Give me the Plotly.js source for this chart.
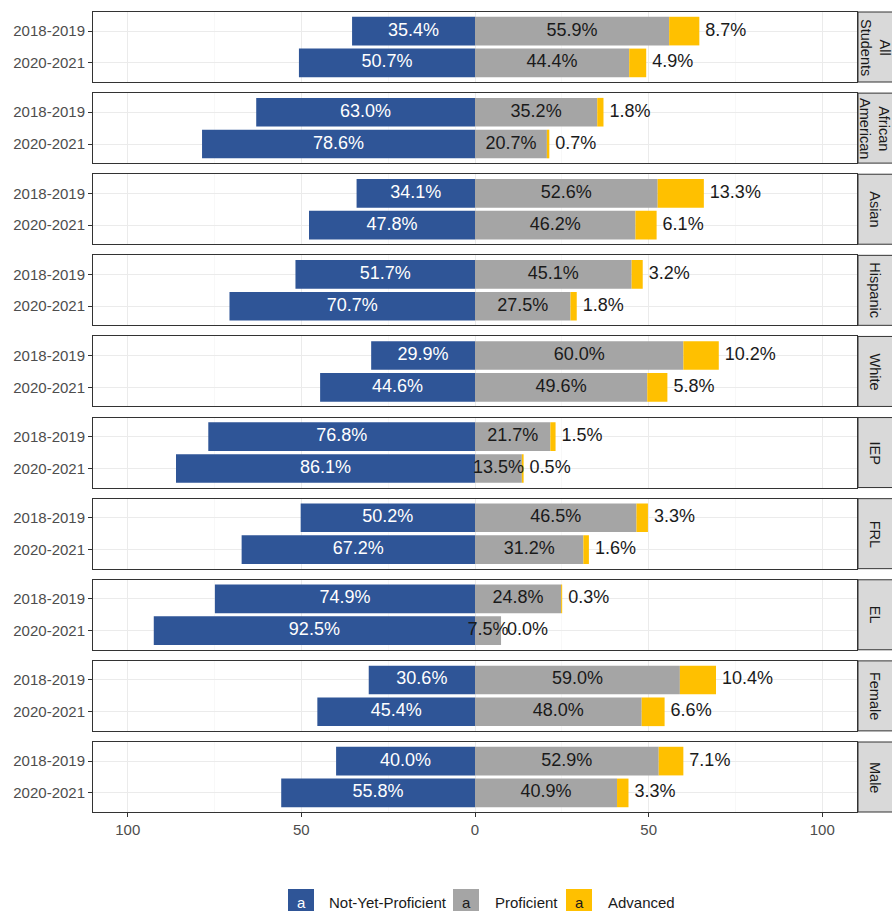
<!DOCTYPE html>
<html>
<head>
<meta charset="utf-8">
<script src="https://cdn.plot.ly/plotly-3.0.1.min.js"></script>
<style>html,body{margin:0;padding:0;background:#fff;}#chart{width:892px;height:911px;}</style>
</head>
<body>
<div id="chart"></div>
<script>
// ---- data ----
const groups = ['All Students','African American','Asian','Hispanic','White','IEP','FRL','EL','Female','Male'];
const years = ['2018-2019','2020-2021'];
const notYet2018 = [35.4, 63.0, 34.1, 51.7, 29.9, 76.8, 50.2, 74.9, 30.6, 40.0];
const notYet2020 = [50.7, 78.6, 47.8, 70.7, 44.6, 86.1, 67.2, 92.5, 45.4, 55.8];
const prof2018   = [55.9, 35.2, 52.6, 45.1, 60.0, 21.7, 46.5, 24.8, 59.0, 52.9];
const prof2020   = [44.4, 20.7, 46.2, 27.5, 49.6, 13.5, 31.2, 7.5, 48.0, 40.9];
const adv2018    = [8.7, 1.8, 13.3, 3.2, 10.2, 1.5, 3.3, 0.3, 10.4, 7.1];
const adv2020    = [4.9, 0.7, 6.1, 1.8, 5.8, 0.5, 1.6, 0.0, 6.6, 3.3];
const levels = ['Not-Yet-Proficient','Proficient','Advanced'];
const xTickVals = [-100, -50, 0, 50, 100];
const xTickText = ['100', '50', '0', '50', '100'];

// ---- style ----
const colors = ['#2F5597', '#A5A5A5', '#FFC000'];
const labelColors = ['#ffffff', '#1a1a1a', '#1a1a1a'];
const FONT = 'Liberation Sans, Arial, sans-serif';

const W = 892, H = 911;
const M = {l: 93, r: 35, t: 12, b: 99};
const plotW = W - M.l - M.r, plotH = H - M.t - M.b;
const panelH = 70;
const pitch = (plotH - panelH) / (groups.length - 1);

const fmt = v => v.toFixed(1) + '%';
const traces = [];
const layout = {
  width: W, height: H,
  margin: M,
  paper_bgcolor: '#ffffff', plot_bgcolor: '#ffffff',
  barmode: 'relative', bargap: 0.1,
  showlegend: false,
  font: {family: FONT},
  shapes: [], annotations: []
};

groups.forEach((g, i) => {
  const k = i === 0 ? '' : String(i + 1);
  const xa = 'x' + k, ya = 'y' + k;
  const nyp = [notYet2018[i], notYet2020[i]];
  const pro = [prof2018[i], prof2020[i]];
  const adv = [adv2018[i], adv2020[i]];

  traces.push({type: 'bar', orientation: 'h', xaxis: xa, yaxis: ya, y: years,
    x: nyp.map(v => -v), marker: {color: colors[0]}, hoverinfo: 'skip', name: levels[0]});
  traces.push({type: 'bar', orientation: 'h', xaxis: xa, yaxis: ya, y: years,
    x: pro, marker: {color: colors[1]}, hoverinfo: 'skip', name: levels[1]});
  traces.push({type: 'bar', orientation: 'h', xaxis: xa, yaxis: ya, y: years,
    x: adv, marker: {color: colors[2]}, hoverinfo: 'skip', name: levels[2]});

  // labels
  traces.push({type: 'scatter', mode: 'text', xaxis: xa, yaxis: ya, y: years,
    x: nyp.map(v => -v / 2), text: nyp.map(fmt), textposition: 'middle center',
    textfont: {family: FONT, size: 18, color: labelColors[0]}, hoverinfo: 'skip', cliponaxis: false});
  traces.push({type: 'scatter', mode: 'text', xaxis: xa, yaxis: ya, y: years,
    x: pro.map(v => v / 2), text: pro.map(fmt), textposition: 'middle center',
    textfont: {family: FONT, size: 18, color: labelColors[1]}, hoverinfo: 'skip', cliponaxis: false});
  traces.push({type: 'scatter', mode: 'markers+text', xaxis: xa, yaxis: ya, y: years,
    x: pro.map((v, j) => v + adv[j]), text: adv.map(fmt), textposition: 'middle right',
    marker: {size: 8, opacity: 0},
    textfont: {family: FONT, size: 18, color: labelColors[2]}, hoverinfo: 'skip', cliponaxis: false});

  const topPx = pitch * i;
  const dom = [1 - (topPx + panelH) / plotH, 1 - topPx / plotH];
  const last = i === groups.length - 1;

  const xaxis = {
    domain: [0, 1], anchor: ya, range: [-110, 110],
    tickmode: 'array', tickvals: xTickVals, ticktext: xTickText,
    showticklabels: last, ticks: last ? 'outside' : '', ticklen: 4, tickcolor: '#333333',
    tickfont: {family: FONT, size: 15, color: '#4d4d4d'},
    showgrid: true, gridcolor: '#ebebeb', gridwidth: 1, zeroline: false,
    minor: {tickmode: 'array', tickvals: [-75, -25, 25, 75], showgrid: true, gridcolor: '#f4f4f4', gridwidth: 0.6, ticklen: 0},
    showline: true, mirror: true, linecolor: '#333333', linewidth: 1,
    fixedrange: true
  };
  if (i > 0) xaxis.matches = 'x';
  layout['xaxis' + k] = xaxis;

  layout['yaxis' + k] = {
    domain: dom, anchor: xa, type: 'category', categoryorder: 'array', categoryarray: years,
    range: [1.6, -0.6],
    ticks: 'outside', ticklen: 4, tickcolor: '#333333',
    tickfont: {family: FONT, size: 15, color: '#4d4d4d'},
    showgrid: true, gridcolor: '#ebebeb', gridwidth: 1, zeroline: false,
    showline: true, mirror: true, linecolor: '#333333', linewidth: 1,
    fixedrange: true
  };

  // facet strip on the right
  const x0 = (858 - M.l) / plotW, x1 = (905 - M.l) / plotW;
  layout.shapes.push({type: 'rect', xref: 'paper', yref: 'paper', x0: x0, x1: x1, y0: dom[0], y1: dom[1],
    fillcolor: '#d9d9d9', line: {color: '#333333', width: 1}, layer: 'above'});
  layout.annotations.push({xref: 'paper', yref: 'paper', x: (875 - M.l) / plotW, y: (dom[0] + dom[1]) / 2,
    text: g.replace(' ', '<br>'), textangle: 90, showarrow: false, xanchor: 'center', yanchor: 'middle',
    font: {family: FONT, size: 14.5, color: '#1a1a1a'}});
});

// ---- legend (drawn as key boxes with "a" glyphs, like ggplot text keys) ----
const px2x = p => (p - M.l) / plotW;
const px2y = p => (M.t + plotH - p) / plotH;
const legendKeys = [288, 453, 566];
const legendLabelX = [327, 493, 606];
levels.forEach((lv, j) => {
  layout.shapes.push({type: 'rect', xref: 'paper', yref: 'paper',
    x0: px2x(legendKeys[j]), x1: px2x(legendKeys[j] + 26), y0: px2y(916), y1: px2y(889),
    fillcolor: colors[j], line: {width: 0}});
  layout.annotations.push({xref: 'paper', yref: 'paper', x: px2x(legendKeys[j] + 13), y: px2y(902),
    text: 'a', showarrow: false, xanchor: 'center', yanchor: 'middle',
    font: {family: FONT, size: 15, color: labelColors[j]}});
  layout.annotations.push({xref: 'paper', yref: 'paper', x: px2x(legendLabelX[j]), y: px2y(902),
    text: lv, showarrow: false, xanchor: 'left', yanchor: 'middle',
    font: {family: FONT, size: 15, color: '#1a1a1a'}});
});

Plotly.newPlot('chart', traces, layout, {staticPlot: true, displayModeBar: false});
</script>
</body>
</html>
